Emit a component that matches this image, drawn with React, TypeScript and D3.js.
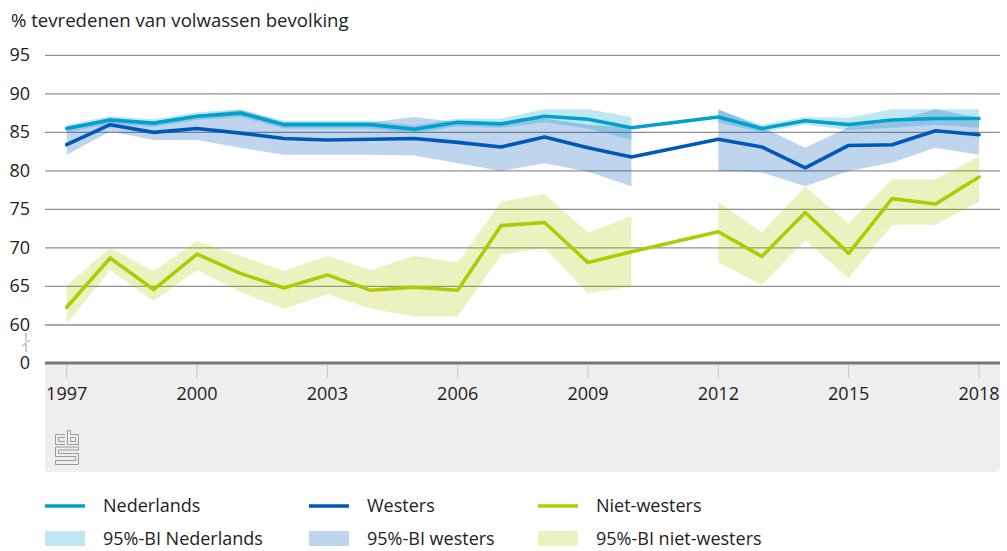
import React from "react";
import * as d3 from "d3";

const years = [1997, 1998, 1999, 2000, 2001, 2002, 2003, 2004, 2005, 2006, 2007, 2008, 2009, 2010, 2011, 2012, 2013, 2014, 2015, 2016, 2017, 2018];

const nederlands = [85.5, 86.6, 86.2, 87.1, 87.5, 86.0, 86.0, 86.0, 85.4, 86.3, 86.1, 87.1, 86.7, 85.6, null, 87.0, 85.5, 86.5, 86.0, 86.6, 86.8, 86.8];
const nederlandsLo = [85.0, 86.1, 85.7, 86.6, 87.0, 85.5, 85.5, 85.5, 84.9, 85.8, 85.6, 86.3, 85.5, 84.0, null, 86.3, 85.0, 86.0, 85.3, 85.6, 86.0, 85.6];
const nederlandsHi = [86.0, 87.1, 86.7, 87.6, 88.0, 86.5, 86.5, 86.5, 85.9, 86.8, 86.8, 88.0, 88.0, 87.0, null, 87.9, 86.0, 87.0, 86.9, 88.0, 88.0, 88.0];

const westers = [83.4, 86.0, 85.0, 85.5, 84.9, 84.2, 84.0, 84.1, 84.2, 83.7, 83.1, 84.4, 83.0, 81.8, null, 84.1, 83.1, 80.4, 83.3, 83.4, 85.2, 84.7];
const westersLo = [82.1, 85.1, 84.0, 84.0, 83.0, 82.1, 82.1, 82.1, 82.0, 81.0, 80.0, 81.0, 79.9, 78.0, null, 80.0, 79.8, 78.0, 80.0, 81.1, 83.0, 82.1];
const westersHi = [85.7, 86.9, 86.4, 87.3, 87.9, 86.3, 86.3, 86.3, 87.0, 86.3, 86.3, 86.8, 86.0, 85.6, null, 88.0, 85.7, 83.0, 85.7, 86.4, 88.0, 86.9];

const nietWesters = [62.3, 68.7, 64.6, 69.2, 66.7, 64.8, 66.5, 64.5, 64.9, 64.5, 72.9, 73.3, 68.1, 69.5, null, 72.1, 68.9, 74.6, 69.3, 76.4, 75.7, 79.2];
const nietWestersLo = [60.2, 67.1, 63.1, 67.1, 64.3, 62.1, 64.0, 62.1, 61.1, 61.1, 69.1, 70.0, 64.1, 65.0, null, 68.1, 65.2, 71.0, 66.1, 73.0, 73.0, 76.0];
const nietWestersHi = [65.1, 70.0, 67.0, 70.9, 69.0, 67.0, 69.0, 67.1, 69.0, 68.1, 76.0, 77.0, 72.0, 74.1, null, 76.0, 72.0, 77.9, 73.2, 78.9, 78.9, 81.9];

const yTicks = [60, 65, 70, 75, 80, 85, 90, 95];
const xTicks = [1997, 2000, 2003, 2006, 2009, 2012, 2015, 2018];

const title = "% tevredenen van volwassen bevolking";

const seriesNames = ["Nederlands", "Westers", "Niet-westers"];
const bandNames = ["95%-BI Nederlands", "95%-BI westers", "95%-BI niet-westers"];

const lineColors = ["#00a1cd", "#0058b8", "#afcb05"];
const FONT = "'Open Sans', sans-serif";

type Pt = { x: number; v: number | null; lo: number | null; hi: number | null };

function build(v: (number | null)[], lo: (number | null)[], hi: (number | null)[]): Pt[] {
  return years.map((x, i) => ({ x, v: v[i], lo: lo[i], hi: hi[i] }));
}

export default function App() {
  const W = 1007;
  const H = 551;
  const x = d3.scaleLinear().domain([1997, 2018]).range([66.7, 979]);
  const y = d3.scaleLinear().domain([60, 95]).range([325, 55.3]);
  const zeroY = 363;
  const gridX0 = 45;
  const gridX1 = 1000;

  const series = [
    build(nederlands, nederlandsLo, nederlandsHi),
    build(westers, westersLo, westersHi),
    build(nietWesters, nietWestersLo, nietWestersHi),
  ];

  const area = d3
    .area<Pt>()
    .defined((d) => d.lo != null && d.hi != null)
    .x((d) => x(d.x))
    .y0((d) => y(d.lo as number))
    .y1((d) => y(d.hi as number));

  const line = d3
    .line<Pt>()
    .x((d) => x(d.x))
    .y((d) => y(d.v as number));

  const legendCols = [45, 309, 538];

  return (
    <svg
      width={W}
      height={H}
      style={{ position: "absolute", left: 0, top: 0, background: "#fff" }}
      fontFamily={FONT}
    >
      <text x={11} y={27} fontSize={18.6} fill="#222">
        {title}
      </text>

      {/* gray panel below axis */}
      <path
        d={`M${gridX0},${zeroY} H${gridX1} V${468} a4,4 0 0 1 -4,4 H${gridX0 + 4} a4,4 0 0 1 -4,-4 Z`}
        fill="#eeeeee"
      />

      {/* gridlines */}
      {yTicks.map((t) => (
        <line key={t} x1={gridX0} x2={gridX1} y1={y(t)} y2={y(t)} stroke="#8f8f8f" strokeWidth={1.3} />
      ))}
      {yTicks.map((t) => (
        <text key={"l" + t} x={30} y={y(t) + 6} fontSize={18} textAnchor="end" fill="#222">
          {t}
        </text>
      ))}
      <text x={30} y={zeroY + 6} fontSize={18} textAnchor="end" fill="#222">
        0
      </text>

      {/* axis break */}
      <line x1={26} x2={26} y1={333} y2={341} stroke="#999" strokeWidth={1} />
      <line x1={22} x2={30} y1={346} y2={340} stroke="#999" strokeWidth={1} />
      <line x1={26} x2={26} y1={344} y2={352} stroke="#999" strokeWidth={1} />

      {/* bands */}
      {series.map((s, i) => (
        <path key={"b" + i} d={area(s) || ""} fill={lineColors[i]} fillOpacity={0.25} />
      ))}

      {/* lines */}
      {series.map((s, i) => (
        <path
          key={"s" + i}
          d={line(s.filter((d) => d.v != null)) || ""}
          fill="none"
          stroke={lineColors[i]}
          strokeWidth={3.6}
          strokeLinejoin="round"
          strokeLinecap="round"
        />
      ))}

      {/* x axis */}
      <line x1={gridX0} x2={gridX1} y1={zeroY} y2={zeroY} stroke="#777" strokeWidth={3} />
      {xTicks.map((t) => (
        <g key={"x" + t}>
          <line x1={x(t)} x2={x(t)} y1={zeroY + 2} y2={zeroY + 15} stroke="#c8c8c8" strokeWidth={1} />
          <text x={x(t)} y={400} fontSize={18} textAnchor="middle" fill="#222">
            {t}
          </text>
        </g>
      ))}

      {/* cbs logo */}
      <g transform="translate(55,430)" fill="none" stroke="#9a9a9a" strokeWidth={1}>
        <path d="M10,4.5 H0.5 V14.5 H10 M10,7.5 H3.5 V11.5 H10" />
        <path d="M12.5,0.5 V14.5 H23.5 V4.5 H15.5 V0.5 Z M15.5,7.5 H20.5 V11.5 H15.5 Z" />
        <path d="M23.5,17 H0.5 V26.5 H20.5 V30.5 H0.5 V34.5 H23.5 V23.5 H3.5 V20 H23.5 Z" />
      </g>

      {/* legend */}
      {seriesNames.map((n, i) => (
        <g key={"lg" + i}>
          <line x1={legendCols[i]} x2={legendCols[i] + 40} y1={506} y2={506} stroke={lineColors[i]} strokeWidth={3.6} />
          <text x={legendCols[i] + 58} y={512} fontSize={18} fill="#222">
            {n}
          </text>
          <rect x={legendCols[i]} y={531} width={40} height={15} fill={lineColors[i]} fillOpacity={0.25} />
          <text x={legendCols[i] + 58} y={545} fontSize={18} fill="#222">
            {bandNames[i]}
          </text>
        </g>
      ))}
    </svg>
  );
}
